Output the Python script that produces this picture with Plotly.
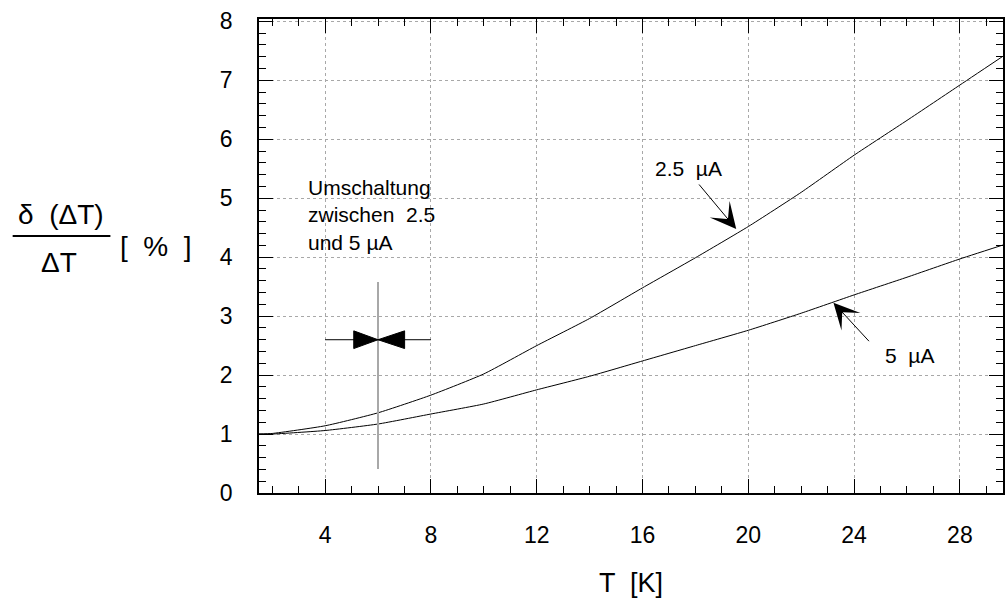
import plotly.graph_objects as go

# ---------------- data ----------------
T_vals = [1.5, 2, 4, 6, 8, 10, 12, 14, 16, 18, 20, 22, 24, 26, 28, 30]
err_25uA = [1.00, 1.01, 1.14, 1.36, 1.66, 2.02, 2.50, 2.96, 3.48, 3.99, 4.52, 5.10, 5.73, 6.32, 6.92, 7.52]
err_5uA = [1.00, 1.00, 1.06, 1.17, 1.34, 1.51, 1.75, 1.98, 2.24, 2.50, 2.76, 3.05, 3.36, 3.66, 3.97, 4.26]
x_ticks = [4, 8, 12, 16, 20, 24, 28]
y_ticks = [0, 1, 2, 3, 4, 5, 6, 7, 8]

# ---------------- layout geometry (pixels) ----------------
W, H = 1005, 601
L, R, TOP, BOT = 259, 1005, 19, 493
XR = [1.5, 29.63]
YR = [0, 8.04]
FONT = "Liberation Sans, Arial, Helvetica, sans-serif"


def px2x(px):
    return XR[0] + (px - L) * (XR[1] - XR[0]) / (R - L)


def py2y(py):
    return YR[0] + (BOT - py) * (YR[1] - YR[0]) / (BOT - TOP)


def px2paper(px):
    return (px - L) / (R - L)


def py2paper(py):
    return (BOT - py) / (BOT - TOP)


fig = go.Figure()
fig.add_trace(go.Scatter(x=T_vals, y=err_25uA, mode="lines",
                         line=dict(color="black", width=1, shape="spline", smoothing=0.5),
                         name="2.5 µA", showlegend=False))
fig.add_trace(go.Scatter(x=T_vals, y=err_5uA, mode="lines",
                         line=dict(color="black", width=1, shape="spline", smoothing=0.5),
                         name="5 µA", showlegend=False))

axis_common = dict(
    showline=True, linecolor="black", linewidth=1.5, mirror="allticks",
    ticks="inside", tickcolor="black", tickwidth=1, ticklen=14,
    showgrid=True, gridcolor="#a8a8a8", griddash="dot", gridwidth=1,
    zeroline=False, tickfont=dict(family=FONT, size=23, color="black"),
)

fig.update_xaxes(range=XR, tickmode="array", tickvals=x_ticks,
                 ticktext=[str(v) for v in x_ticks], ticklabelstandoff=21,
                 minor=dict(ticks="inside", ticklen=7, dtick=1, tick0=0,
                            tickcolor="black", showgrid=False),
                 **axis_common)
fig.update_yaxes(range=YR, tickmode="array", tickvals=y_ticks,
                 ticktext=[str(v) for v in y_ticks], ticklabelstandoff=20,
                 minor=dict(ticks="inside", ticklen=7, dtick=0.2, tick0=0,
                            tickcolor="black", showgrid=False),
                 **axis_common)

annotations = []
# x-axis title
annotations.append(dict(xref="paper", yref="paper", x=px2paper(632), y=py2paper(583),
                        text="T  [K]", showarrow=False, xanchor="center", yanchor="middle",
                        font=dict(family=FONT, size=27, color="black")))
# y-axis title as fraction
annotations.append(dict(xref="paper", yref="paper", x=px2paper(60), y=py2paper(214),
                        text="δ  (ΔT)", showarrow=False, xanchor="center", yanchor="middle",
                        font=dict(family=FONT, size=28, color="black")))
annotations.append(dict(xref="paper", yref="paper", x=px2paper(58), y=py2paper(262),
                        text="ΔT", showarrow=False, xanchor="center", yanchor="middle",
                        font=dict(family=FONT, size=28, color="black")))
annotations.append(dict(xref="paper", yref="paper", x=px2paper(156), y=py2paper(246),
                        text="[  %  ]", showarrow=False, xanchor="center", yanchor="middle",
                        font=dict(family=FONT, size=28, color="black")))
# switching note
annotations.append(dict(x=px2x(306), y=py2y(214.5), text="Umschaltung<br>zwischen  2.5<br>und 5 µA",
                        showarrow=False, xanchor="left", yanchor="middle", align="left",
                        font=dict(family=FONT, size=21, color="black")))
# curve labels
annotations.append(dict(x=px2x(690), y=py2y(168), text="2.5  µA", showarrow=False,
                        xanchor="center", yanchor="middle",
                        font=dict(family=FONT, size=21, color="black")))
annotations.append(dict(x=px2x(911), y=py2y(355), text="5  µA", showarrow=False,
                        xanchor="center", yanchor="middle",
                        font=dict(family=FONT, size=21, color="black")))
# arrows
annotations.append(dict(x=px2x(737.5), y=py2y(229), ax=px2x(699), ay=py2y(183),
                        axref="x", ayref="y", text="", showarrow=True,
                        arrowhead=3, arrowsize=4.3, arrowwidth=1, arrowcolor="black"))
annotations.append(dict(x=px2x(835), y=py2y(302.7), ax=px2x(872), ay=py2y(342.7),
                        axref="x", ayref="y", text="", showarrow=True,
                        arrowhead=3, arrowsize=4.3, arrowwidth=1, arrowcolor="black"))

shapes = []
# fraction bar
shapes.append(dict(type="line", xref="paper", yref="paper",
                   x0=px2paper(12), x1=px2paper(110), y0=py2paper(236), y1=py2paper(236),
                   line=dict(color="black", width=2)))
# switching marker: vertical gray line, horizontal line, bow-tie
shapes.append(dict(type="line", x0=6, x1=6, y0=py2y(282), y1=py2y(469),
                   line=dict(color="#a8a8a8", width=2)))
shapes.append(dict(type="line", x0=4, x1=8, y0=2.6, y1=2.6,
                   line=dict(color="black", width=1)))
hb = 0.15
shapes.append(dict(type="path", path=f"M {px2x(354)},{2.6 - hb} L 6,2.6 L {px2x(354)},{2.6 + hb} Z",
                   fillcolor="black", line=dict(color="black", width=1)))
shapes.append(dict(type="path", path=f"M {px2x(405)},{2.6 - hb} L 6,2.6 L {px2x(405)},{2.6 + hb} Z",
                   fillcolor="black", line=dict(color="black", width=1)))

fig.update_layout(
    width=W, height=H,
    margin=dict(l=L, r=W - R, t=TOP, b=H - BOT),
    paper_bgcolor="white", plot_bgcolor="white",
    annotations=annotations, shapes=shapes,
    showlegend=False,
)

fig.write_html("out.html")
